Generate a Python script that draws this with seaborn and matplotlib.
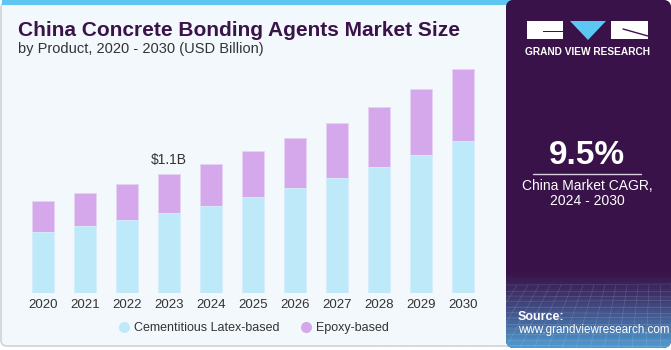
# stacked bar chart: China concrete bonding agents market size by product
import numpy as np
import pandas as pd
import matplotlib
matplotlib.use('Agg')
import matplotlib.pyplot as plt
from matplotlib.patches import FancyBboxPatch, Rectangle, Polygon
from matplotlib.lines import Line2D
import seaborn as sns

years = ['2020', '2021', '2022', '2023', '2024', '2025', '2026', '2027', '2028', '2029', '2030']
cementitious = [0.568, 0.620, 0.676, 0.740, 0.807, 0.888, 0.970, 1.063, 1.164, 1.277, 1.404]
epoxy = [0.280, 0.307, 0.331, 0.360, 0.387, 0.423, 0.458, 0.504, 0.550, 0.603, 0.661]
series_names = ['Cementitious Latex-based', 'Epoxy-based']
highlight_year = '2023'
highlight_label = '$1.1B'

blue = '#bde9f8'
purple = '#d5a8ec'
dark = '#3a1449'

sns.set_style('white')
plt.rcParams['font.family'] = ['Liberation Sans', 'DejaVu Sans']

df = pd.DataFrame({'Year': years, 'Cementitious': cementitious, 'Epoxy': epoxy})
df['Total'] = df['Cementitious'] + df['Epoxy']

W, H = 671, 350
fig = plt.figure(figsize=(W / 100, H / 100), dpi=100)
fig.patch.set_facecolor('white')

# background layer in pixel coords
bg = fig.add_axes([0, 0, 1, 1])
bg.set_xlim(0, W)
bg.set_ylim(H, 0)
bg.axis('off')

bg.add_patch(FancyBboxPatch((1, 2), 520, 344, boxstyle='round,pad=0,rounding_size=6',
                            facecolor='#f3f8fc', edgecolor='#cfd3d6', lw=1.2))
bg.add_patch(Rectangle((2, 0), 510, 5, facecolor='#5ec6f0', edgecolor='none'))

# right panel with gradient at the bottom
grad = np.linspace(0, 1, 100)
cols = np.zeros((100, 1, 3))
top_c = np.array([0x38, 0x12, 0x48]) / 255
bot_c = np.array([0x4f, 0x9a, 0xd0]) / 255
for i, g in enumerate(grad):
    t = max(0, (g - 0.78) / 0.22) ** 1.2
    cols[i, 0] = top_c * (1 - t) + bot_c * t
bg.add_patch(FancyBboxPatch((506, 0), 165, 348, boxstyle='round,pad=0,rounding_size=8',
                            facecolor=top_c, edgecolor='none'))
im = bg.imshow(cols, extent=(506, 671, 348, 0), aspect='auto', zorder=1)
clip = FancyBboxPatch((506, 0), 165, 348, boxstyle='round,pad=0,rounding_size=8',
                      facecolor='none', edgecolor='none', transform=bg.transData)
bg.add_patch(clip)
im.set_clip_path(clip)
# faint grid texture
for k in range(12):
    yy = 285 + k * 5.5
    bg.plot([506, 671], [yy, yy + (k % 3) - 1], color='white', lw=0.4, alpha=0.18, zorder=2)
for k in range(-6, 20):
    x0 = 506 + k * 11
    bg.plot([x0, 506 + (k - 3) * 14], [285, 348], color='white', lw=0.4, alpha=0.18, zorder=2)
bg.set_xlim(0, W)
bg.set_ylim(H, 0)

# logo
bg.add_patch(Rectangle((527, 21), 36, 18, facecolor='white', edgecolor='none', zorder=3))
bg.add_patch(Rectangle((543, 31), 20, 1.2, facecolor=dark, edgecolor='none', zorder=4))
bg.add_patch(Polygon([(570, 21), (606, 21), (588, 40)], closed=True, facecolor='#5ac8f2', edgecolor='none', zorder=3))
bg.add_patch(Rectangle((611, 21), 37, 18, facecolor='white', edgecolor='none', zorder=3))
bg.plot([623, 648], [29, 36], color=dark, lw=1, zorder=4)
bg.text(587.5, 52, 'GRAND VIEW RESEARCH', color='white', fontsize=7.3, fontweight='bold',
        ha='center', va='center', zorder=4)

bg.text(587, 156, '9.5%', color='white', fontsize=24, fontweight='bold', ha='center', va='center', zorder=4)
bg.plot([533, 641], [173.5, 173.5], color='#d8d0de', lw=1, zorder=4)
bg.text(587, 186.5, 'China Market CAGR,', color='white', fontsize=10, ha='center', va='center', zorder=4)
bg.text(587, 201, '2024 - 2030', color='white', fontsize=10, ha='center', va='center', zorder=4)
bg.text(518, 317, 'Source:', color='white', fontsize=9, fontweight='bold', ha='left', va='center', zorder=4)
bg.text(518, 330, 'www.grandviewresearch.com', color='white', fontsize=8.4, ha='left', va='center', zorder=4)

# titles
bg.text(18, 30, 'China Concrete Bonding Agents Market Size', color=dark, fontsize=15,
        fontweight='bold', ha='left', va='center')
bg.text(18, 49, 'by Product, 2020 - 2030 (USD Billion)', color='#333333', fontsize=10.5,
        ha='left', va='center')

# chart axes
left_px, right_px, top_px, base_px = 22, 484, 60, 293.3
ax = fig.add_axes([left_px / W, 1 - base_px / H, (right_px - left_px) / W, (base_px - top_px) / H])
ax.patch.set_alpha(0)
sns.barplot(data=df, x='Year', y='Total', color=purple, width=0.54, saturation=1, ax=ax,
            edgecolor='#e6d2f2', linewidth=0.6)
sns.barplot(data=df, x='Year', y='Cementitious', color=blue, width=0.54, saturation=1, ax=ax,
            edgecolor='#d7f1fb', linewidth=0.6)
ax.set_xlim(-0.5, len(years) - 0.5)
ax.set_ylim(0, (base_px - top_px) / 108.5)
sns.despine(ax=ax, left=True, bottom=True)
ax.set_yticks([])
ax.set_xlabel('')
ax.set_ylabel('')
ax.tick_params(axis='x', length=0, pad=4, labelsize=9.5, labelcolor='#333333')

hi = years.index(highlight_year)
ax.text(hi, df['Total'][hi] + 0.065, highlight_label, ha='center', va='bottom', fontsize=10, color='#333333')

handles = [Line2D([], [], marker='o', ls='', markersize=8, markerfacecolor=c, markeredgecolor='none')
           for c in (blue, purple)]
fig.legend(handles, series_names, loc='center', bbox_to_anchor=(253 / W, 1 - 328 / H), ncol=2,
           frameon=False, fontsize=9, handletextpad=0.3, columnspacing=1.6, labelcolor='#333333',
           handlelength=1.0)

fig.savefig('out.png', dpi=100)
